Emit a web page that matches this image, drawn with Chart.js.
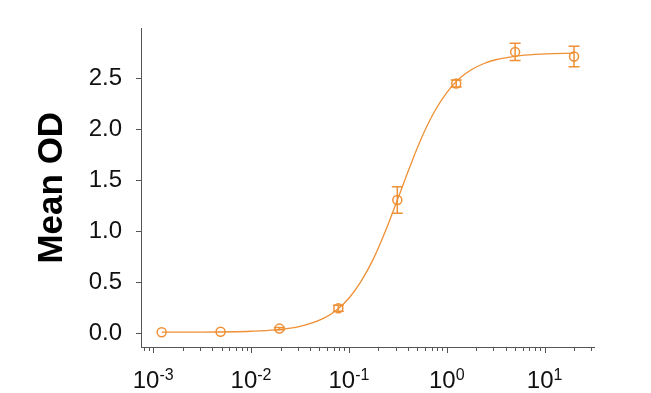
<!DOCTYPE html>
<html><head><meta charset="utf-8">
<script src="https://cdn.jsdelivr.net/npm/chart.js@4"></script>
<style>html,body{margin:0;padding:0;background:#fff}canvas{display:block}</style>
</head><body>
<canvas id="c" width="651" height="393"></canvas>
<script>
// Measured points (concentration, mean OD, error)
const concentrations = [0.00122, 0.00488, 0.0195, 0.078, 0.3125, 1.25, 5, 20];
const meanOD = [0.015, 0.02, 0.05, 0.25, 1.31, 2.45, 2.76, 2.715];
const errorOD = [0, 0, 0.012, 0.03, 0.13, 0.035, 0.085, 0.1];
// Fitted curve
const curveX = [0.00122, 0.00316, 0.01, 0.0178, 0.0316, 0.0562, 0.075, 0.1, 0.133, 0.178, 0.237, 0.316, 0.422, 0.562, 0.75, 1, 1.33, 1.78, 2.37, 3.16, 5.62, 10, 20];
const curveY = [0.015, 0.016, 0.024, 0.037, 0.071, 0.155, 0.232, 0.347, 0.512, 0.733, 1.008, 1.321, 1.64, 1.933, 2.176, 2.362, 2.494, 2.585, 2.644, 2.683, 2.724, 2.740, 2.747];
// Tick labels
const yTickValues = [0, 0.5, 1, 1.5, 2, 2.5];
const xMajorExponents = [-3, -2, -1, 0, 1];

const ORANGE = '#EE9035';
const AXIS = '#555555';
const FONT = '"Liberation Sans", Arial, sans-serif';

const errorBarPlugin = {
  id: 'errorBars',
  afterDatasetsDraw(chart) {
    const ctx = chart.ctx, xs = chart.scales.x, ys = chart.scales.y;
    ctx.save();
    ctx.strokeStyle = ORANGE;
    ctx.lineWidth = 1.5;
    concentrations.forEach((c, i) => {
      const e = errorOD[i];
      if (!e) return;
      const px = xs.getPixelForValue(c);
      const t = ys.getPixelForValue(meanOD[i] + e);
      const b = ys.getPixelForValue(meanOD[i] - e);
      ctx.beginPath();
      ctx.moveTo(px, t); ctx.lineTo(px, b);
      ctx.moveTo(px - 5.5, t); ctx.lineTo(px + 5.5, t);
      ctx.moveTo(px - 5.5, b); ctx.lineTo(px + 5.5, b);
      ctx.stroke();
    });
    ctx.restore();
  }
};

const xAxisPlugin = {
  id: 'xAxisDecor',
  afterDraw(chart) {
    const ctx = chart.ctx, xs = chart.scales.x, y0 = chart.chartArea.bottom;
    ctx.save();
    ctx.strokeStyle = AXIS;
    ctx.lineWidth = 1;
    for (let n = -4; n <= 2; n++) {
      for (let m = 1; m <= 9; m++) {
        const v = m * Math.pow(10, n);
        if (v < xs.min || v > xs.max) continue;
        const px = Math.round(xs.getPixelForValue(v)) + 0.5;
        const len = m === 1 ? 6 : 4;
        ctx.beginPath();
        ctx.moveTo(px, y0);
        ctx.lineTo(px, y0 + len);
        ctx.stroke();
      }
    }
    ctx.fillStyle = '#111';
    ctx.textBaseline = 'alphabetic';
    ctx.textAlign = 'left';
    xMajorExponents.forEach(e => {
      const px = xs.getPixelForValue(Math.pow(10, e));
      const base = '10', sup = String(e);
      ctx.font = '24px ' + FONT;
      const wb = ctx.measureText(base).width;
      ctx.font = '16px ' + FONT;
      const ws = ctx.measureText(sup).width;
      const x0 = px - (wb + ws) / 2;
      ctx.font = '24px ' + FONT;
      ctx.fillText(base, x0, 388);
      ctx.font = '16px ' + FONT;
      ctx.fillText(sup, x0 + wb, 380);
    });
    ctx.restore();
  }
};

new Chart(document.getElementById('c'), {
  type: 'scatter',
  data: {
    datasets: [
      {
        data: curveX.map((x, i) => ({ x, y: curveY[i] })),
        showLine: true,
        borderColor: ORANGE,
        borderWidth: 1.3,
        pointRadius: 0,
        cubicInterpolationMode: 'monotone',
        fill: false
      },
      {
        data: concentrations.map((x, i) => ({ x, y: meanOD[i] })),
        showLine: false,
        pointStyle: 'circle',
        pointRadius: 4.5,
        pointBorderWidth: 1.5,
        pointBorderColor: ORANGE,
        pointBackgroundColor: 'rgba(0,0,0,0)'
      }
    ]
  },
  options: {
    responsive: false,
    animation: false,
    devicePixelRatio: 1,
    layout: { padding: { top: 28, right: 57, left: 0, bottom: 0 } },
    plugins: { legend: { display: false }, tooltip: { enabled: false } },
    scales: {
      x: {
        type: 'logarithmic',
        position: 'bottom',
        min: 0.00075,
        max: 32,
        grid: { display: false },
        border: { display: true, color: AXIS, width: 1 },
        ticks: { display: false },
        afterFit(s) { s.height = 46; }
      },
      y: {
        type: 'linear',
        min: -0.13,
        max: 2.99,
        afterBuildTicks(s) { s.ticks = yTickValues.map(v => ({ value: v })); },
        grid: { display: true, drawOnChartArea: false, drawTicks: true, tickLength: 5, color: AXIS },
        border: { display: true, color: AXIS, width: 1 },
        ticks: {
          padding: 14,
          color: '#111',
          font: { size: 24, family: FONT },
          callback: v => Number(v).toFixed(1)
        },
        title: {
          display: true,
          text: 'Mean OD',
          color: '#000',
          font: { size: 35, weight: 'bold', family: FONT, lineHeight: 1.2 },
          padding: { top: 31, bottom: 0 }
        },
        afterFit(s) { s.width = 141; }
      }
    }
  },
  plugins: [errorBarPlugin, xAxisPlugin]
});
</script>
</body></html>
